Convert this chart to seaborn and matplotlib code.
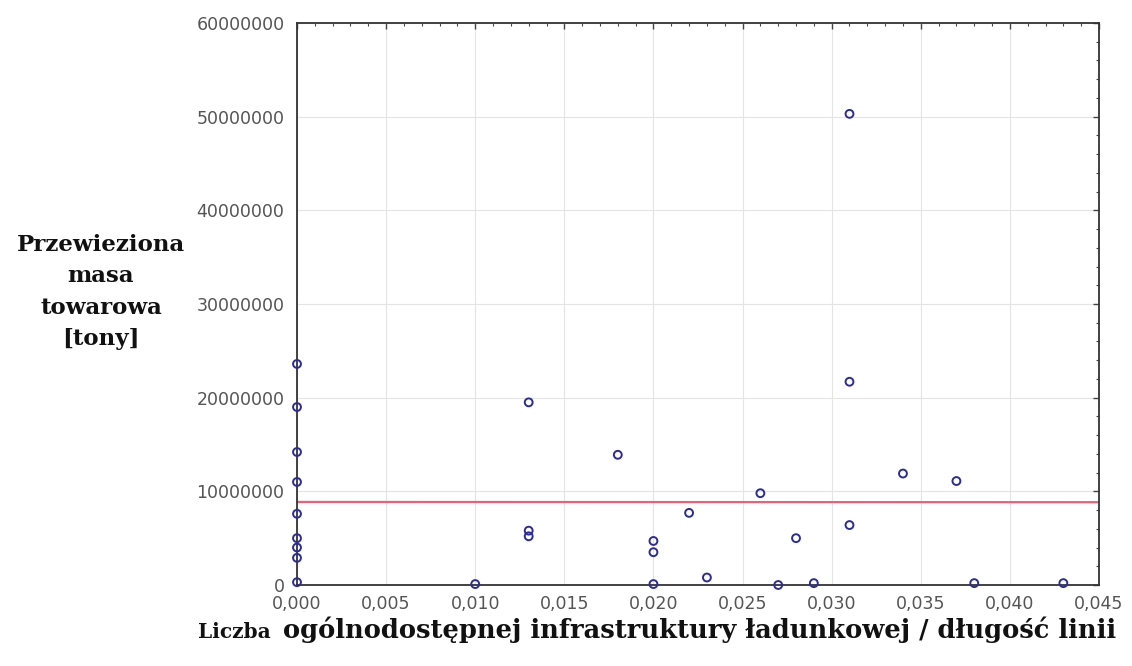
import numpy as np
import pandas as pd
import matplotlib
matplotlib.use("Agg")
import matplotlib.pyplot as plt
import seaborn as sns
from matplotlib.ticker import AutoMinorLocator, FuncFormatter

# wartości
infra_per_length = [0.000, 0.000, 0.000, 0.000, 0.000, 0.000, 0.000, 0.000, 0.000,
                    0.010, 0.013, 0.013, 0.013, 0.018, 0.020, 0.020, 0.020,
                    0.022, 0.023, 0.026, 0.027, 0.028, 0.029,
                    0.031, 0.031, 0.031, 0.034, 0.037, 0.038, 0.043]
mass_tons = [23.6e6, 19.0e6, 14.2e6, 11.0e6, 7.6e6, 5.0e6, 4.0e6, 2.9e6, 0.3e6,
             0.1e6, 19.5e6, 5.8e6, 5.2e6, 13.9e6, 4.7e6, 3.5e6, 0.1e6,
             7.7e6, 0.8e6, 9.8e6, 0.0, 5.0e6, 0.2e6,
             50.3e6, 21.7e6, 6.4e6, 11.9e6, 11.1e6, 0.2e6, 0.2e6]

x_ticks = [0.000, 0.005, 0.010, 0.015, 0.020, 0.025, 0.030, 0.035, 0.040, 0.045]
y_ticks = [0, 10000000, 20000000, 30000000, 40000000, 50000000, 60000000]

df = pd.DataFrame({"x": infra_per_length, "y": mass_tons})

sns.set_style("white")
plt.rcParams['font.family'] = ['DejaVu Sans']

W, H = 1132, 666
fig = plt.figure(figsize=(W / 100, H / 100), dpi=100)
ax = fig.add_axes([297 / W, (H - 585) / H, (1099 - 297) / W, (585 - 23) / H])

ax.set_xlim(x_ticks[0], x_ticks[-1])
ax.set_ylim(y_ticks[0], y_ticks[-1])
ax.set_xticks(x_ticks)
ax.set_yticks(y_ticks)
ax.grid(True, color="#e4e4e4", linewidth=0.8)
ax.set_axisbelow(True)

sns.regplot(data=df, x="x", y="y", ax=ax, scatter=False, ci=None, truncate=False,
            line_kws=dict(color="#e8607a", linewidth=1.6, zorder=2))
sns.scatterplot(data=df, x="x", y="y", ax=ax, marker="o", s=32,
                facecolor="none", edgecolor="#2b2b9a", linewidth=1.4, zorder=3,
                clip_on=False)

ax.xaxis.set_major_formatter(FuncFormatter(lambda v, p: f"{v:.3f}".replace(".", ",")))
ax.yaxis.set_major_formatter(FuncFormatter(lambda v, p: f"{int(round(v))}"))
ax.xaxis.set_minor_locator(AutoMinorLocator(5))
ax.yaxis.set_minor_locator(AutoMinorLocator(5))
ax.tick_params(which="both", direction="in", top=True, right=True,
               color="#444444")
ax.tick_params(which="major", length=4, width=1, labelsize=12.5,
               labelcolor="#555555")
ax.tick_params(axis="x", which="major", pad=7)
ax.tick_params(axis="y", which="major", pad=9)
ax.tick_params(which="minor", length=2, width=0.8)
for side in ax.spines.values():
    side.set_color("#333333")
    side.set_linewidth(1.3)

ax.set_xlabel("")
ax.set_ylabel("")

fig.text(101 / W, 1 - 292 / H, "Przewieziona\nmasa\ntowarowa\n[tony]",
         ha="center", va="center", multialignment="center", linespacing=1.55,
         fontsize=16.5, fontweight="bold", family="DejaVu Serif", color="#111111")
fig.text(198 / W, 1 - 638 / H, "Liczba", ha="left", va="baseline",
         fontsize=14.5, fontweight="bold", family="DejaVu Serif", color="#111111")
fig.text(283 / W, 1 - 638 / H, "ogólnodostępnej infrastruktury ładunkowej / długość linii",
         ha="left", va="baseline", fontsize=18.5, fontweight="bold",
         family="DejaVu Serif", color="#111111")

fig.savefig("out.png", dpi=100)
